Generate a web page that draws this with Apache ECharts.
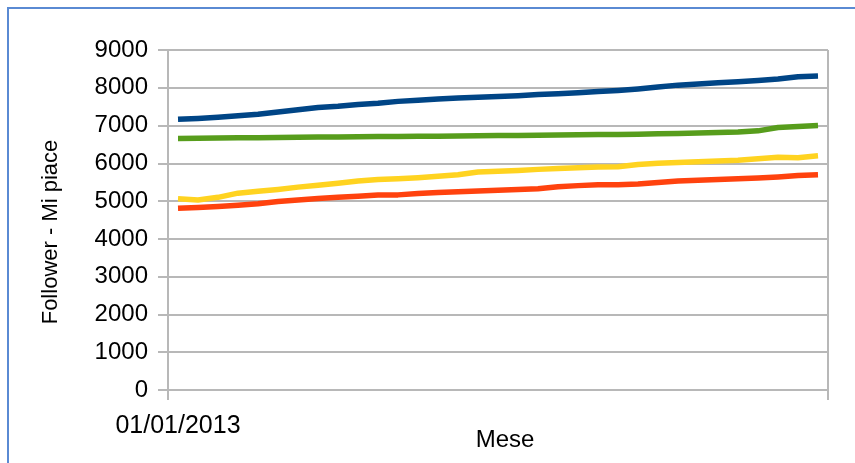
<!DOCTYPE html>
<html>
<head>
<meta charset="utf-8">
<script src="https://cdn.jsdelivr.net/npm/echarts@6/dist/echarts.min.js"></script>
<style>
html,body{margin:0;padding:0;background:#fff;width:855px;height:463px;overflow:hidden;}
#frame{position:absolute;left:7px;top:7px;width:848px;height:456px;box-sizing:border-box;border-left:2px solid #5a8ad3;border-top:2px solid #5a8ad3;}
#chart{position:absolute;left:0;top:0;width:855px;height:463px;}
</style>
</head>
<body>
<div id="chart"></div>
<div id="frame"></div>
<script>
const categories = [
  '01/01/2013','02/01/2013','03/01/2013','04/01/2013','05/01/2013','06/01/2013','07/01/2013',
  '08/01/2013','09/01/2013','10/01/2013','11/01/2013','12/01/2013','13/01/2013','14/01/2013',
  '15/01/2013','16/01/2013','17/01/2013','18/01/2013','19/01/2013','20/01/2013','21/01/2013',
  '22/01/2013','23/01/2013','24/01/2013','25/01/2013','26/01/2013','27/01/2013','28/01/2013',
  '29/01/2013','30/01/2013','31/01/2013','01/02/2013','02/02/2013'
];
const yTicks = [0,1000,2000,3000,4000,5000,6000,7000,8000,9000];
const blueSeries = [7170,7190,7220,7260,7300,7360,7420,7480,7510,7560,7590,7640,7670,7700,7730,7750,7770,7790,7820,7840,7870,7900,7930,7970,8020,8070,8100,8130,8160,8190,8230,8290,8310];
const redSeries = [4810,4830,4860,4890,4930,4990,5030,5070,5100,5130,5160,5165,5200,5230,5250,5270,5290,5310,5330,5380,5410,5430,5430,5450,5490,5530,5550,5570,5590,5610,5640,5680,5700];
const yellowSeries = [5060,5030,5100,5210,5260,5310,5370,5420,5470,5530,5570,5590,5620,5660,5700,5770,5790,5810,5840,5860,5880,5900,5910,5970,6000,6020,6040,6060,6080,6120,6160,6150,6200];
const greenSeries = [6660,6665,6670,6675,6680,6685,6690,6695,6700,6705,6710,6710,6715,6720,6725,6730,6735,6740,6745,6750,6755,6760,6765,6770,6780,6790,6800,6815,6830,6860,6950,6975,7000];

const FONT = 'Liberation Sans, Arial, sans-serif';
const grey = '#b8b8b8';
const chart = echarts.init(document.getElementById('chart'), null, {renderer:'canvas'});
const mk = (name, data, color) => ({
  name, type:'line', data, showSymbol:false, symbol:'none',
  lineStyle:{color, width:5.5, cap:'butt', join:'round'}, itemStyle:{color}, z:3
});
chart.setOption({
  animation:false,
  backgroundColor:'#fff',
  grid:{left:168, right:27, top:50, bottom:73, containLabel:false, outerBoundsMode:'none'},
  xAxis:{
    type:'category', data:categories, boundaryGap:true,
    name:'Mese', nameLocation:'middle', nameGap:38, nameMoveOverlap:false,
    nameTextStyle:{fontFamily:FONT, fontSize:24, color:'#000', padding:[0,0,0,14]},
    axisLine:{show:true, lineStyle:{color:grey, width:2}},
    axisTick:{show:true, length:10, interval:(i)=>i===0, lineStyle:{color:grey, width:2}},
    axisLabel:{interval:(i)=>i===0, margin:24, fontFamily:FONT, fontSize:25, color:'#000'},
    splitLine:{show:true, interval:(i)=>i===0, lineStyle:{color:grey, width:2}}
  },
  yAxis:{
    type:'value', min:yTicks[0], max:yTicks[yTicks.length-1], interval:1000,
    name:'Follower - Mi piace', nameLocation:'middle', nameGap:106, nameRotate:90, nameMoveOverlap:false,
    nameTextStyle:{fontFamily:FONT, fontSize:22, color:'#000', padding:[0,24,0,0]},
    axisLine:{show:true, lineStyle:{color:grey, width:2}},
    axisTick:{show:true, length:10, lineStyle:{color:grey, width:2}},
    axisLabel:{margin:20, fontFamily:FONT, fontSize:24, color:'#000', formatter:(v)=>String(v)},
    splitLine:{show:true, lineStyle:{color:grey, width:2}}
  },
  series:[
    mk('Blu', blueSeries, '#004586'),
    mk('Rosso', redSeries, '#ff420e'),
    mk('Giallo', yellowSeries, '#ffd320'),
    mk('Verde', greenSeries, '#579d1c')
  ]
});
</script>
</body>
</html>
